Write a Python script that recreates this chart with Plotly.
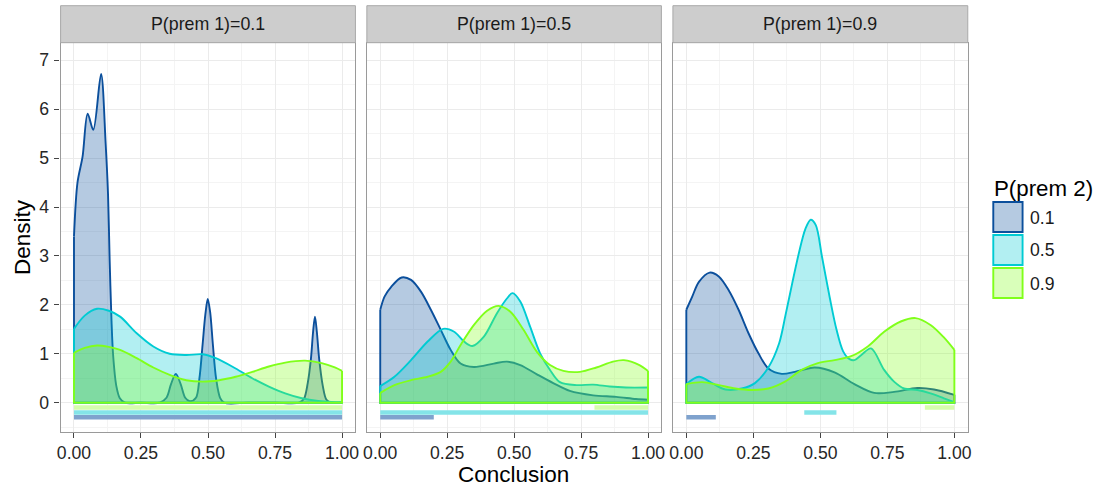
import plotly.graph_objects as go

# ---------------- data ----------------
facet_labels = ["P(prem 1)=0.1", "P(prem 1)=0.5", "P(prem 1)=0.9"]
group_labels = ["0.1", "0.5", "0.9"]
legend_title = "P(prem 2)"
x_title = "Conclusion"
y_title = "Density"
x_tick_vals = [0.0, 0.25, 0.5, 0.75, 1.0]
x_tick_text = ["0.00", "0.25", "0.50", "0.75", "1.00"]
y_tick_vals = [0, 1, 2, 3, 4, 5, 6, 7]
y_tick_text = ["0", "1", "2", "3", "4", "5", "6", "7"]

# Panel P(prem 1)=0.1
f1_g1_x = [0, 0.013, 0.032, 0.051, 0.072, 0.101, 0.118, 0.127, 0.133, 0.14, 0.146, 0.158, 0.171, 0.19, 0.25,
           0.32, 0.345, 0.362, 0.38, 0.398, 0.415, 0.432, 0.455, 0.468, 0.48, 0.49, 0.499, 0.508, 0.518, 0.53,
           0.545, 0.56, 0.65, 0.75, 0.84, 0.858, 0.872, 0.884, 0.892, 0.899, 0.906, 0.915, 0.928, 0.942, 0.96, 1.0]
f1_g1_y = [3.4, 4.5, 5.03, 5.91, 5.58, 6.72, 5.31, 4.26, 2.93, 1.67, 0.97, 0.34, 0.09, 0.0, 0.0,
           0.0, 0.1, 0.38, 0.59, 0.38, 0.1, 0.03, 0.1, 0.5, 1.2, 1.8, 2.12, 1.85, 1.2, 0.5,
           0.1, 0.0, 0.0, 0.0, 0.0, 0.08, 0.4, 0.9, 1.45, 1.76, 1.45, 0.88, 0.35, 0.06, 0.0, 0.0]
f1_g2_x = [0, 0.04, 0.086, 0.13, 0.172, 0.234, 0.296, 0.357, 0.419, 0.48, 0.529, 0.603, 0.665, 0.727, 0.788,
           0.85, 0.911, 0.96, 1.0]
f1_g2_y = [1.51, 1.78, 1.92, 1.88, 1.76, 1.42, 1.15, 1.0, 0.975, 0.99, 0.91, 0.70, 0.50, 0.33, 0.19,
           0.09, 0.035, 0.015, 0.01]
f1_g3_x = [0, 0.04, 0.086, 0.13, 0.172, 0.234, 0.296, 0.357, 0.419, 0.48, 0.542, 0.603, 0.665, 0.727, 0.788,
           0.862, 0.924, 0.973, 1.0]
f1_g3_y = [1.02, 1.12, 1.17, 1.14, 1.08, 0.91, 0.72, 0.57, 0.46, 0.43, 0.46, 0.53, 0.63, 0.74, 0.82,
           0.86, 0.81, 0.72, 0.65]

# Panel P(prem 1)=0.5
f2_g1_x = [0, 0.016, 0.041, 0.08, 0.115, 0.152, 0.189, 0.226, 0.263, 0.3, 0.35, 0.424, 0.473, 0.523, 0.585,
           0.646, 0.708, 0.795, 0.881, 0.955, 1.0]
f2_g1_y = [1.9, 2.17, 2.37, 2.56, 2.51, 2.27, 1.9, 1.49, 1.08, 0.8, 0.73, 0.8, 0.84, 0.77, 0.58,
           0.40, 0.24, 0.15, 0.12, 0.075, 0.06]
f2_g2_x = [0, 0.053, 0.115, 0.177, 0.235, 0.276, 0.313, 0.344, 0.387, 0.436, 0.473, 0.494, 0.523, 0.56, 0.597,
           0.634, 0.671, 0.733, 0.795, 0.857, 0.918, 1.0]
f2_g2_y = [0.34, 0.53, 0.87, 1.25, 1.51, 1.45, 1.25, 1.16, 1.35, 1.83, 2.13, 2.24, 2.07, 1.55, 1.01,
           0.67, 0.42, 0.36, 0.37, 0.33, 0.31, 0.31]
f2_g3_x = [0, 0.053, 0.115, 0.177, 0.226, 0.263, 0.3, 0.35, 0.399, 0.442, 0.486, 0.535, 0.585, 0.634, 0.684,
           0.746, 0.807, 0.869, 0.91, 0.968, 1.0]
f2_g3_y = [0.2, 0.36, 0.46, 0.53, 0.63, 0.84, 1.18, 1.59, 1.88, 1.98, 1.86, 1.49, 1.04, 0.77, 0.65,
           0.63, 0.72, 0.84, 0.87, 0.77, 0.65]

# Panel P(prem 1)=0.9
f3_g1_x = [0, 0.022, 0.047, 0.087, 0.121, 0.158, 0.195, 0.232, 0.269, 0.306, 0.356, 0.405, 0.479, 0.553,
           0.627, 0.701, 0.775, 0.862, 0.924, 1.0]
f3_g1_y = [1.9, 2.17, 2.47, 2.66, 2.58, 2.30, 1.9, 1.42, 1.01, 0.70, 0.59, 0.63, 0.72, 0.62,
           0.38, 0.2, 0.22, 0.3, 0.27, 0.16]
f3_g2_x = [0, 0.047, 0.096, 0.146, 0.207, 0.256, 0.306, 0.346, 0.37, 0.395, 0.42, 0.444, 0.464, 0.483,
           0.506, 0.535, 0.56, 0.585, 0.609, 0.627, 0.652, 0.689, 0.738, 0.775, 0.812, 0.862, 0.911, 0.961, 1.0]
f3_g2_y = [0.38, 0.53, 0.40, 0.27, 0.29, 0.40, 0.72, 1.21, 1.79, 2.44, 3.06, 3.55, 3.74, 3.63,
           2.99, 2.15, 1.5, 1.05, 0.89, 0.87, 0.97, 1.11, 0.67, 0.43, 0.29, 0.26, 0.19, 0.09, 0.01]
f3_g3_x = [0, 0.059, 0.121, 0.183, 0.244, 0.306, 0.368, 0.43, 0.491, 0.553, 0.615, 0.677, 0.738, 0.8,
           0.855, 0.911, 0.96, 1.0]
f3_g3_y = [0.38, 0.42, 0.36, 0.29, 0.26, 0.29, 0.43, 0.67, 0.81, 0.87, 0.95, 1.15, 1.45, 1.66,
           1.73, 1.59, 1.34, 1.08]

# range bars (start, end) for each group in each panel
f1_ranges = [[0.0, 1.0], [0.0, 1.0], [0.0, 1.0]]
f2_ranges = [[0.0, 0.2], [0.0, 1.0], [0.8, 1.0]]
f3_ranges = [[0.0, 0.11], [0.44, 0.56], [0.89, 1.0]]
range_levels = [-0.3, -0.2, -0.1]

# ---------------- style ----------------
line_colors = ["#0b4f9c", "#00cbd3", "#80ff1a"]
fill_colors = ["rgba(11,79,156,0.3)", "rgba(0,203,211,0.3)", "rgba(128,255,26,0.3)"]
bar_colors = ["#7fa2cd", "#84e4e8", "#d6fdad"]
FONT = "Liberation Sans, Arial, sans-serif"
W, H = 1105, 488

panels = [
    ([(f1_g1_x, f1_g1_y), (f1_g2_x, f1_g2_y), (f1_g3_x, f1_g3_y)], f1_ranges),
    ([(f2_g1_x, f2_g1_y), (f2_g2_x, f2_g2_y), (f2_g3_x, f2_g3_y)], f2_ranges),
    ([(f3_g1_x, f3_g1_y), (f3_g2_x, f3_g2_y), (f3_g3_x, f3_g3_y)], f3_ranges),
]

x_domains_px = [(57.0, 354.0), (365.5, 662.2), (673.8, 970.8)]
y_top_px, y_bot_px = 42.7, 431.7
strip_top_px = 5.7

fig = go.Figure()

for pi, (curves, ranges) in enumerate(panels):
    xa = "x" if pi == 0 else f"x{pi + 1}"
    ya = "y" if pi == 0 else f"y{pi + 1}"
    # range bars
    for gi, (r, lev) in enumerate(zip(ranges, range_levels)):
        fig.add_trace(go.Scatter(x=r, y=[lev, lev], mode="lines", xaxis=xa, yaxis=ya,
                                 line=dict(color=bar_colors[gi], width=4.5), showlegend=False,
                                 hoverinfo="skip"))
    # densities
    for gi, (cx, cy) in enumerate(curves):
        fig.add_trace(go.Scatter(x=cx, y=cy, mode="lines", xaxis=xa, yaxis=ya, fill="tozeroy",
                                 fillcolor=fill_colors[gi],
                                 line=dict(color=line_colors[gi], width=1.9, shape="spline", smoothing=0.9),
                                 showlegend=False, hoverinfo="skip"))
        fig.add_trace(go.Scatter(x=[cx[0], cx[0], cx[-1], cx[-1]], y=[cy[0], 0, 0, cy[-1]],
                                 mode="lines", xaxis=xa, yaxis=ya,
                                 line=dict(color=line_colors[gi], width=1.9),
                                 showlegend=False, hoverinfo="skip"))

layout = dict(
    width=W, height=H, margin=dict(l=0, r=0, t=0, b=0),
    paper_bgcolor="white", plot_bgcolor="white",
    font=dict(family=FONT, color="#1a1a1a"),
)
shapes = []
annotations = []
ydom = [1 - y_bot_px / H, 1 - y_top_px / H]
for pi, (x0, x1) in enumerate(x_domains_px):
    sfx = "" if pi == 0 else str(pi + 1)
    dom = [x0 / W, x1 / W]
    layout["xaxis" + sfx] = dict(
        domain=dom, anchor="y" + sfx, range=[-0.05, 1.05],
        tickmode="array", tickvals=x_tick_vals, ticktext=x_tick_text,
        ticks="outside", ticklen=5, tickwidth=1, tickcolor="#444444",
        tickfont=dict(size=17.6, color="#262626", family=FONT),
        showgrid=True, gridcolor="#ebebeb", gridwidth=1,
        minor=dict(dtick=0.125, tick0=0, showgrid=True, gridcolor="#f4f4f4", gridwidth=1, ticks=""),
        showline=True, mirror=True, linecolor="#9a9a9a", linewidth=1.2,
        zeroline=False, fixedrange=True,
    )
    layout["yaxis" + sfx] = dict(
        domain=ydom, anchor="x" + sfx, range=[-0.593, 7.36],
        tickmode="array", tickvals=y_tick_vals, ticktext=y_tick_text,
        ticks="outside" if pi == 0 else "", ticklen=5, tickwidth=1, tickcolor="#444444",
        showticklabels=(pi == 0), ticklabelstandoff=2,
        tickfont=dict(size=17.6, color="#262626", family=FONT),
        showgrid=True, gridcolor="#ebebeb", gridwidth=1,
        minor=dict(dtick=0.5, tick0=0, showgrid=True, gridcolor="#f4f4f4", gridwidth=1, ticks=""),
        showline=True, mirror=True, linecolor="#9a9a9a", linewidth=1.2,
        zeroline=False, fixedrange=True,
    )
    # strip
    shapes.append(dict(type="rect", xref="paper", yref="paper",
                       x0=dom[0], x1=dom[1], y0=ydom[1], y1=1 - strip_top_px / H,
                       fillcolor="#cdcdcd", line=dict(color="#a9a9a9", width=1), layer="above"))
    annotations.append(dict(text=facet_labels[pi], xref="paper", yref="paper",
                            x=(dom[0] + dom[1]) / 2, y=1 - 24.2 / H, xanchor="center", yanchor="middle",
                            showarrow=False, font=dict(size=17.8, color="#1a1a1a", family=FONT)))

# axis titles
annotations.append(dict(text=x_title, xref="paper", yref="paper", x=513.7 / W, y=1 - 474.5 / H,
                        xanchor="center", yanchor="middle", showarrow=False,
                        font=dict(size=22.5, color="#000000", family=FONT)))
annotations.append(dict(text=y_title, xref="paper", yref="paper", x=18.0 / W, y=1 - 237.2 / H,
                        xanchor="center", yanchor="middle", textangle=-90, showarrow=False,
                        font=dict(size=22.5, color="#000000", family=FONT)))

# legend (drawn manually, ggplot style)
annotations.append(dict(text=legend_title, xref="paper", yref="paper", x=995.0 / W, y=1 - 188.5 / H,
                        xanchor="left", yanchor="middle", showarrow=False,
                        font=dict(size=22.3, color="#000000", family=FONT)))
key_tops = [202.0, 235.0, 268.0]
for gi, lab in enumerate(group_labels):
    t = key_tops[gi]
    shapes.append(dict(type="rect", xref="paper", yref="paper",
                       x0=996.5 / W, x1=1026.0 / W, y0=1 - (t + 30.0) / H, y1=1 - t / H,
                       fillcolor=fill_colors[gi], line=dict(color=line_colors[gi], width=1.9)))
    annotations.append(dict(text=lab, xref="paper", yref="paper", x=1031.5 / W, y=1 - (t + 15.5) / H,
                            xanchor="left", yanchor="middle", showarrow=False,
                            font=dict(size=17.6, color="#1a1a1a", family=FONT)))

layout["shapes"] = shapes
layout["annotations"] = annotations
fig.update_layout(**layout)
fig.write_html("out.html")
